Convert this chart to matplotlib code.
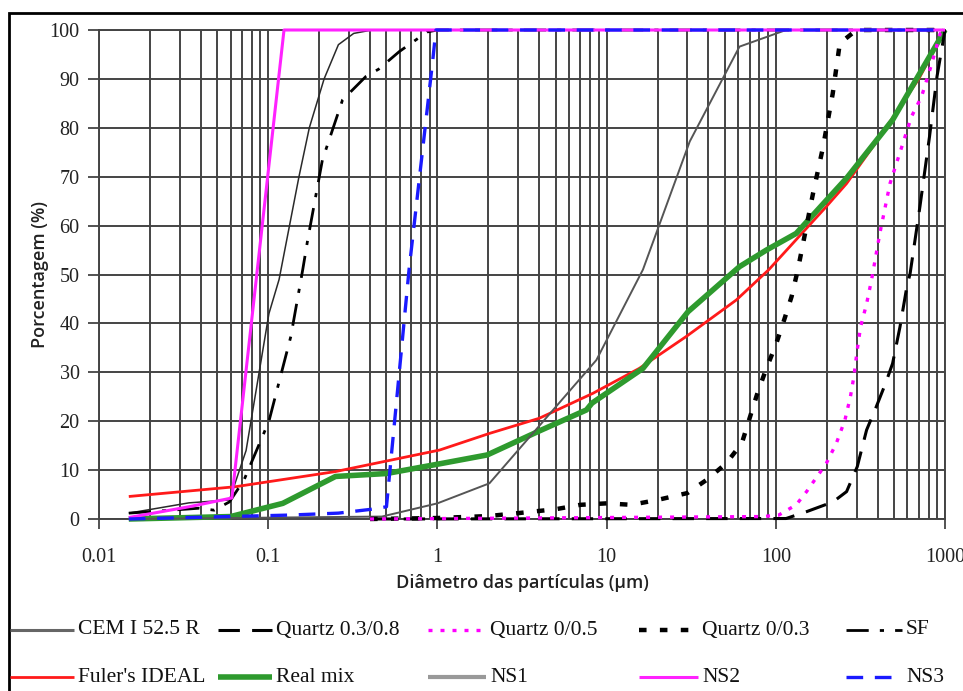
import matplotlib
matplotlib.use("Agg")
import matplotlib.pyplot as plt
from matplotlib.lines import Line2D
from matplotlib.patches import Rectangle
from matplotlib.ticker import LogLocator, FixedLocator, NullFormatter

# ---------------- data (diameter in µm, cumulative %) ----------------
cem_x = [0.015, 0.034, 0.059, 0.074, 0.101, 0.116, 0.152, 0.175, 0.214, 0.26, 0.32, 0.41, 1000]
cem_y = [1.2, 3.3, 3.9, 14, 42, 49, 70, 80, 90, 97, 99.3, 100, 100]

q0308_x = [0.4, 115, 152, 218, 262, 303, 344, 393, 446, 490, 542, 595, 622, 711, 810, 897, 1000]
q0308_y = [0, 0.1, 1.5, 3.5, 5.6, 10.7, 18.2, 23, 27.8, 31.8, 39.3, 47.5, 50.2, 63.9, 78.2, 90.5, 100]

q005_x = [0.4, 84, 104, 132, 152, 199, 228, 256, 276, 289, 303, 317, 344, 368, 412, 473, 554, 634, 727, 830, 937, 1000]
q005_y = [0, 0.5, 0.8, 2.9, 5.6, 11.4, 15.5, 20.2, 25, 29, 34.6, 39.3, 44, 48.9, 58.4, 68.6, 76, 82.3, 86.4, 92.8, 99.3, 100]

q003_x = [0.4, 1, 2, 3, 5, 7, 10, 14, 20, 30, 39, 51, 63, 70, 78, 88, 100, 112, 124, 135, 166, 190, 217, 239, 300, 1000]
q003_y = [0, 0.2, 0.6, 1.2, 2, 2.9, 3.2, 2.9, 3.9, 5.3, 8, 11.4, 15.5, 20.6, 25.8, 30.8, 35.6, 40.7, 45.5, 51, 66.6, 76, 87, 97.3, 100, 100]

sf_x = [0.015, 0.039, 0.048, 0.059, 0.072, 0.101, 0.136, 0.16, 0.171, 0.209, 0.275, 0.378, 0.45, 0.596, 0.87, 1.0, 1000]
sf_y = [1.2, 2.2, 1.8, 3.5, 8, 20, 37.3, 51, 57, 73.4, 85.7, 90.5, 92, 95.6, 99.6, 100, 100]

fuller_x = [0.015, 0.064, 0.25, 1.03, 2.03, 4, 8.3, 15.6, 29.5, 58.5, 91, 199, 262, 400, 700, 1000]
fuller_y = [4.6, 6.6, 9.7, 14.1, 17.5, 20.6, 25.7, 30.8, 37.3, 44.8, 51, 63.9, 68.6, 77.5, 90, 100]

mix_x = [0.015, 0.06, 0.122, 0.25, 0.5, 1.0, 1.97, 4, 7.6, 8.2, 16.4, 30.3, 61, 88, 132, 262, 490, 1000]
mix_y = [0, 0.5, 3.2, 8.7, 9.3, 11.2, 13.1, 18, 22.3, 23.7, 30.8, 42.4, 51.6, 55, 58.4, 69.7, 81.6, 100]

ns1_x = [0.015, 0.47, 1.0, 2.03, 8.7, 16.4, 31, 61, 115, 1000]
ns1_y = [0, 0.5, 3.2, 7.3, 32.5, 51, 77.2, 96.6, 100, 100]

ns2_x = [0.015, 0.034, 0.061, 0.124, 1000]
ns2_y = [0.3, 2.5, 4.3, 100, 100]

ns3_x = [0.015, 0.133, 0.26, 0.41, 0.5, 0.68, 0.94, 0.98, 1000]
ns3_y = [0, 0.8, 1.2, 2, 2.5, 51, 94, 100, 100]

x_ticks = [0.01, 0.1, 1, 10, 100, 1000]
x_tick_labels = ["0.01", "0.1", "1", "10", "100", "1000"]
y_ticks = [0, 10, 20, 30, 40, 50, 60, 70, 80, 90, 100]

labels = ["CEM I 52.5 R", "Quartz 0.3/0.8", "Quartz 0/0.5", "Quartz 0/0.3", "SF",
          "Fuler's IDEAL", "Real mix", "NS1", "NS2", "NS3"]

# ---------------- figure ----------------
W, H = 963, 691
fig = plt.figure(figsize=(W / 100, H / 100), dpi=100)
ax = fig.add_axes([99 / W, 1 - 519 / H, (945 - 99) / W, (519 - 30) / H])

serif = "Liberation Serif"
sans = "Open Sans"

styles = {
    "CEM I 52.5 R": dict(color="#2a2a2a", lw=1.1, ls="-"),
    "Quartz 0.3/0.8": dict(color="black", lw=2.2, ls=(0, (7, 4))),
    "Quartz 0/0.5": dict(color="#ff00ff", lw=2.4, ls=(0, (1.2, 2.4))),
    "Quartz 0/0.3": dict(color="black", lw=3.2, ls=(0, (1.7, 3.0))),
    "SF": dict(color="black", lw=2.0, ls=(0, (8, 4, 1.5, 4))),
    "Fuler's IDEAL": dict(color="#ff1a1a", lw=2.0, ls="-"),
    "Real mix": dict(color="#2e9a2e", lw=4.0, ls="-"),
    "NS1": dict(color="#555555", lw=1.4, ls="-"),
    "NS2": dict(color="#ff22ff", lw=2.2, ls="-"),
    "NS3": dict(color="#1a1aff", lw=2.4, ls=(0, (5, 3.5))),
}

series = {
    "CEM I 52.5 R": (cem_x, cem_y),
    "Quartz 0.3/0.8": (q0308_x, q0308_y),
    "Quartz 0/0.5": (q005_x, q005_y),
    "Quartz 0/0.3": (q003_x, q003_y),
    "SF": (sf_x, sf_y),
    "Fuler's IDEAL": (fuller_x, fuller_y),
    "Real mix": (mix_x, mix_y),
    "NS1": (ns1_x, ns1_y),
    "NS2": (ns2_x, ns2_y),
    "NS3": (ns3_x, ns3_y),
}

draw_order = ["Fuler's IDEAL", "Real mix", "NS1", "CEM I 52.5 R", "SF",
              "Quartz 0/0.3", "Quartz 0.3/0.8", "Quartz 0/0.5", "NS2", "NS3"]
for i, name in enumerate(draw_order):
    xs, ys = series[name]
    ax.plot(xs, ys, zorder=3 + i * 0.1, clip_on=False, solid_capstyle="butt",
            dash_capstyle="butt", **styles[name])

ax.set_xscale("log")
ax.set_xlim(0.01, 1000)
ax.set_ylim(0, 100)

grid_col = "#444444"
ax.xaxis.set_major_locator(FixedLocator(x_ticks))
ax.xaxis.set_minor_locator(LogLocator(base=10, subs=range(2, 10)))
ax.xaxis.set_minor_formatter(NullFormatter())
ax.set_xticks(x_ticks)
ax.set_xticklabels(x_tick_labels)
ax.set_yticks(y_ticks)
ax.grid(True, which="both", axis="x", color=grid_col, lw=1.4, zorder=1)
ax.grid(True, which="major", axis="y", color=grid_col, lw=1.4, zorder=1)
ax.set_axisbelow(True)
for s in ax.spines.values():
    s.set_color(grid_col)
    s.set_linewidth(1.4)
ax.tick_params(axis="x", which="major", length=7, width=1.3, color=grid_col,
               pad=14, labelsize=14.5)
ax.tick_params(axis="x", which="minor", length=0)
ax.tick_params(axis="y", length=8, width=1.3, color=grid_col, pad=6, labelsize=14.5)
for lab in ax.get_xticklabels() + ax.get_yticklabels():
    lab.set_fontfamily(serif)
    lab.set_color("#222222")

ax.set_xlabel("Diâmetro das partículas (µm)", fontfamily=sans, fontweight="semibold",
              fontsize=13, labelpad=5, color="#222222")
ax.set_ylabel("Porcentagem (%)", fontfamily=sans, fontweight="semibold",
              fontsize=13, color="#222222")
ax.yaxis.set_label_coords(-50 / (945 - 99), 0.5)

# ---------------- legend (two rows of five) ----------------
col_x0 = [10, 218, 428, 639, 846]
col_x1 = [74, 272, 486, 698, 902]
row_y = [630, 677]
for k, name in enumerate(labels):
    r, c = divmod(k, 5)
    y = 1 - row_y[r] / H
    st = dict(styles[name])
    if name == "CEM I 52.5 R":
        st["lw"] = 2.2
        st["color"] = "#666666"
    if name == "NS1":
        st["color"] = "#999999"
        st["lw"] = 3.0
    fig.add_artist(Line2D([col_x0[c] / W, col_x1[c] / W], [y, y], transform=fig.transFigure,
                          solid_capstyle="butt", dash_capstyle="butt", **st))
    tx = col_x1[c] + 4
    fig.text(tx / W, y, name, fontfamily=serif, fontsize=15.5, va="center", ha="left",
             color="#111111")

# outer frame
fig.add_artist(Rectangle((9 / W, -0.05), 1.2, 1 - 13 / H + 0.05, transform=fig.transFigure,
                         fill=False, edgecolor="black", lw=2, clip_on=False))

fig.savefig("out.png", dpi=100, facecolor="white")
